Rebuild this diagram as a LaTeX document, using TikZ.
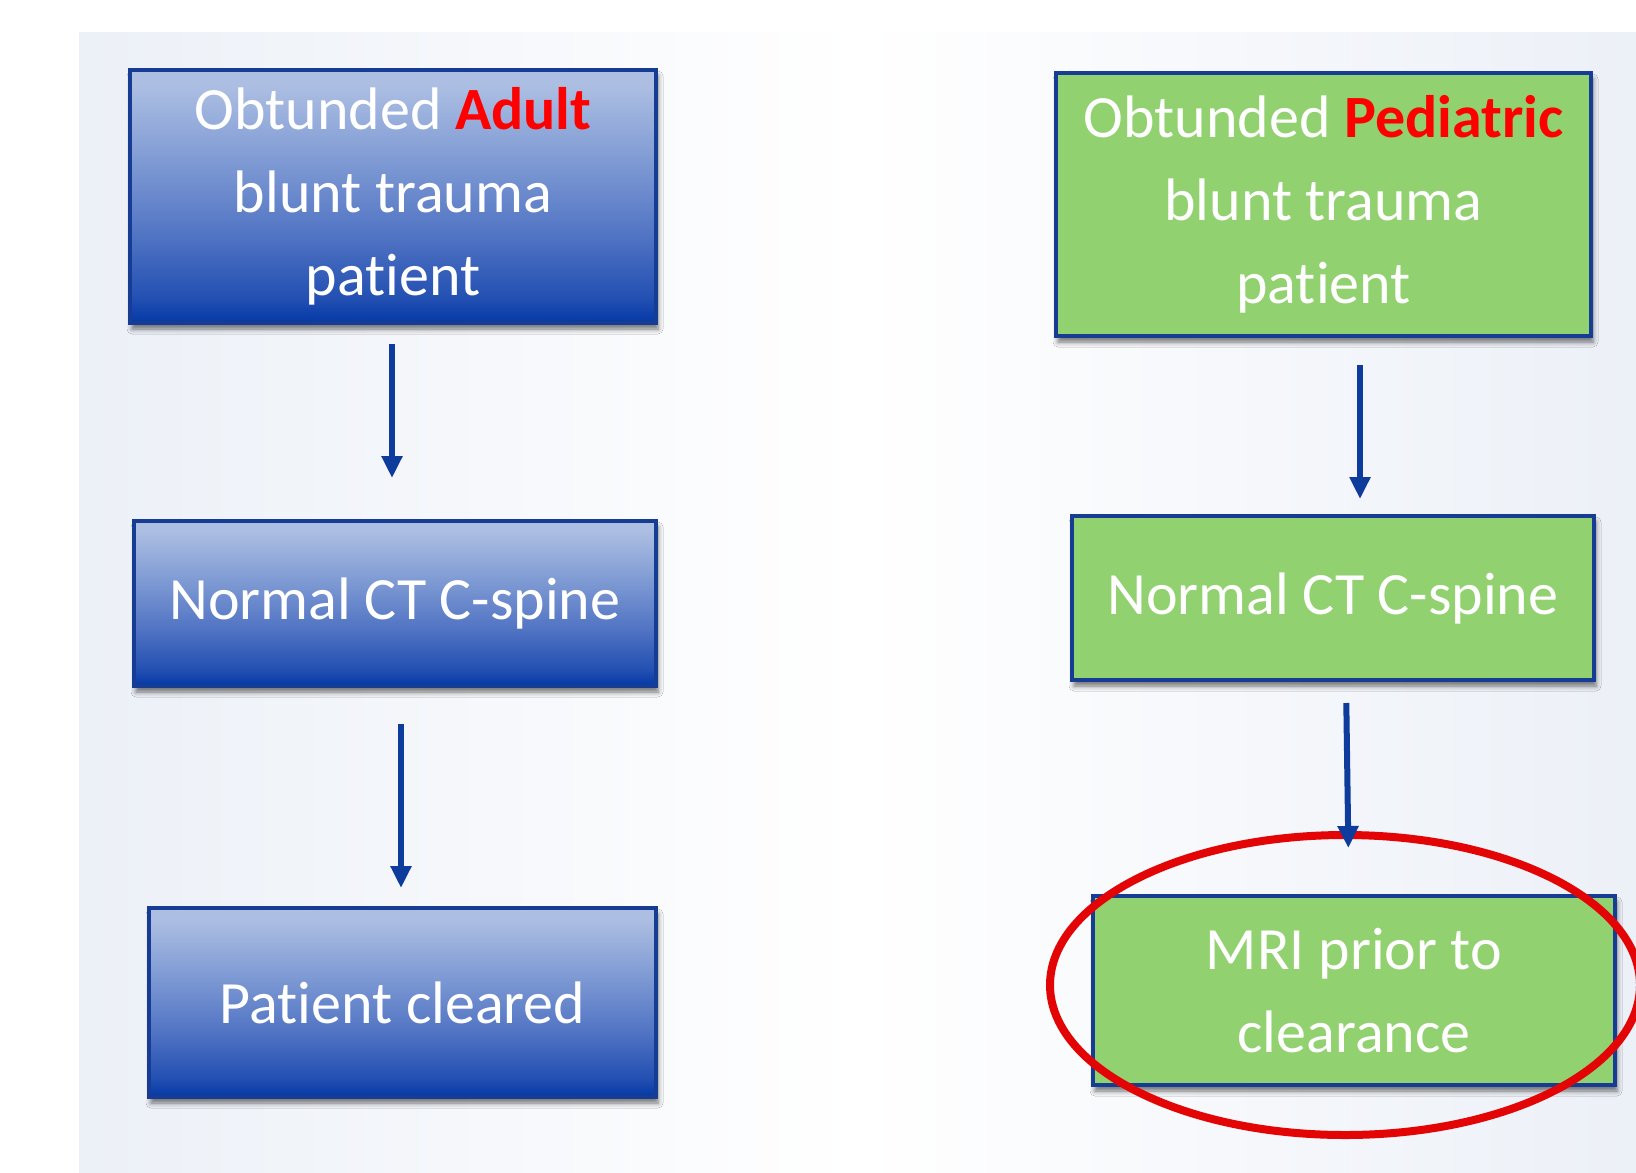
\documentclass[tikz,border=0pt]{standalone}
\usepackage{fontspec}
\setmainfont{Carlito}[Ligatures=CommonOff]
\usetikzlibrary{arrows.meta,shapes.geometric,shadows.blur}

\newlength{\du}
\setlength{\du}{0.5pt}

\definecolor{adulttop}{rgb}{0.674510, 0.745098, 0.886275}
\definecolor{adultup}{rgb}{0.509804, 0.615686, 0.835294}
\definecolor{adultmid}{rgb}{0.313725, 0.450980, 0.764706}
\definecolor{adultlow}{rgb}{0.137255, 0.313725, 0.698039}
\definecolor{adultbot}{rgb}{0.015686, 0.219608, 0.650980}
\definecolor{pedgreen}{rgb}{0.568627, 0.819608, 0.435294}
\definecolor{boxline}{rgb}{0.090196, 0.235294, 0.580392}
\definecolor{arrowblue}{rgb}{0.050980, 0.235294, 0.611765}
\definecolor{titlered}{rgb}{1.000000, 0.000000, 0.000000}
\definecolor{ringred}{rgb}{0.890196, 0.019608, 0.019608}
\definecolor{panelblue}{rgb}{0.925490, 0.941176, 0.968627}

\pgfdeclareverticalshading{adultshade}{100bp}{color(0bp)=(adultbot); color(25bp)=(adultbot); color(30bp)=(adultlow); color(42bp)=(adultmid); color(58bp)=(adultup); color(72bp)=(adulttop); color(100bp)=(adulttop)}

\tikzset{
  flowbox/.style={rectangle, draw=boxline, line width=4\du, inner sep=0pt,
    text=white, align=center, font=\fontsize{30}{41.5}\selectfont,
    blur shadow={shadow xshift=2\du, shadow yshift=-6\du,
      shadow blur radius=5\du, shadow opacity=55}},
  adultbox/.style={flowbox, shade, shading=adultshade},
  pedbox/.style={flowbox, fill=pedgreen},
  flowline/.style={draw=arrowblue, line width=6\du,
    -{Triangle[length=11pt,width=10pt]}},
  ringline/.style={ellipse, draw=ringred, line width=8\du, inner sep=0pt}
}

\begin{document}
\begin{tikzpicture}
\useasboundingbox (0\du,0\du) rectangle (1636\du,-1172\du);
\fill[white] (0\du,0\du) rectangle (1636\du,-1172\du);
\shade[left color=panelblue, right color=panelblue, middle color=white]
  (79\du,-33\du) rectangle (1636\du,-1172\du);

% adult column
\node[adultbox, minimum width=526\du, minimum height=253\du] (adultA) at (393\du,-196.5\du)
  {Obtunded {\bfseries\color{titlered}Adult}\\blunt trauma\\patient};
\node[adultbox, minimum width=522\du, minimum height=165\du] (adultB) at (395\du,-603.5\du)
  {Normal CT C-spine};
\node[adultbox, minimum width=507\du, minimum height=189\du] (adultC) at (402.5\du,-1002.5\du)
  {Patient cleared};

% pediatric column
\node[pedbox, minimum width=535\du, minimum height=263\du] (pedA) at (1323.5\du,-204.5\du)
  {Obtunded {\bfseries\color{titlered}Pediatric}\\blunt trauma\\patient};
\node[pedbox, minimum width=522\du, minimum height=164\du] (pedB) at (1333\du,-598\du)
  {Normal CT C-spine};
\node[pedbox, minimum width=522\du, minimum height=189\du] (pedC) at (1354\du,-990.5\du)
  {MRI prior to\\clearance};

\node[ringline, minimum width=590\du, minimum height=300\du] (ring) at (1345\du,-985\du) {};

\draw[flowline, shorten <=9.5pt, shorten >=20.5pt]
  ([xshift=-1\du]adultA.south) -- ([xshift=-3\du]adultB.north);
\draw[flowline, shorten <=18pt, shorten >=9pt]
  ([xshift=6\du]adultB.south) -- ([xshift=-1.5\du]adultC.north);
\draw[flowline, shorten <=13.5pt, shorten >=7.5pt]
  ([xshift=36.5\du]pedA.south) -- ([xshift=27\du]pedB.north);
\draw[flowline, shorten <=10.5pt, shorten >=23pt]
  ([xshift=13\du]pedB.south) -- ([xshift=-5\du]pedC.north);
\end{tikzpicture}
\end{document}
